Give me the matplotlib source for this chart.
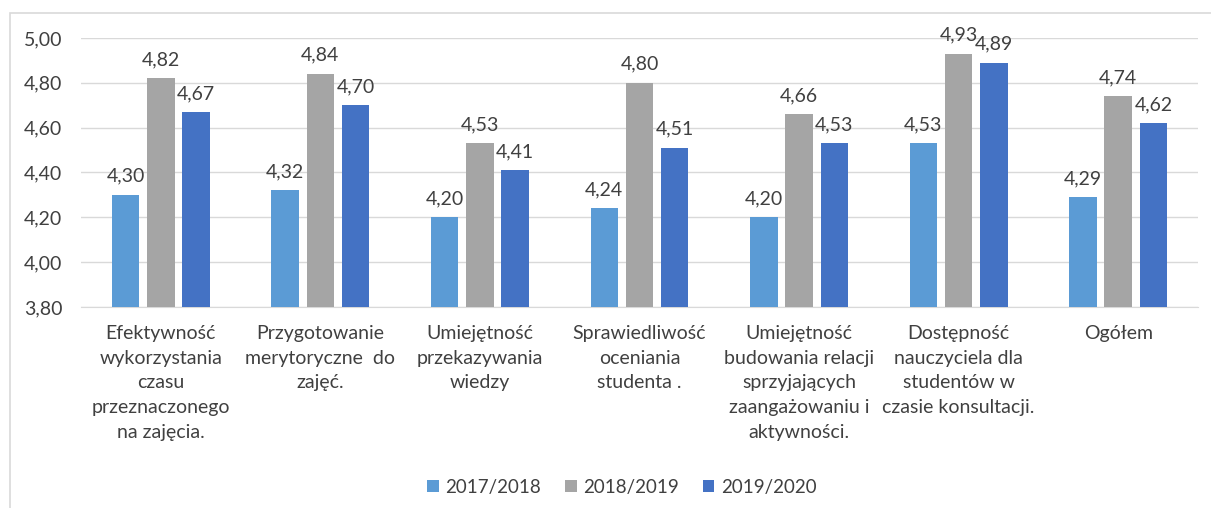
import matplotlib
matplotlib.use("Agg")
import matplotlib.pyplot as plt
import numpy as np
from matplotlib.patches import Rectangle

categories = [
    "Efektywność\nwykorzystania\nczasu\nprzeznaczonego\nna zajęcia.",
    "Przygotowanie\nmerytoryczne  do\nzajęć.",
    "Umiejętność\nprzekazywania\nwiedzy",
    "Sprawiedliwość\noceniania\nstudenta .",
    "Umiejętność\nbudowania relacji\nsprzyjających\nzaangażowaniu i\naktywności.",
    "Dostępność\nnauczyciela dla\nstudentów w\nczasie konsultacji.",
    "Ogółem",
]
series_names = ["2017/2018", "2018/2019", "2019/2020"]
v2017 = [4.30, 4.32, 4.20, 4.24, 4.20, 4.53, 4.29]
v2018 = [4.82, 4.84, 4.53, 4.80, 4.66, 4.93, 4.74]
v2019 = [4.67, 4.70, 4.41, 4.51, 4.53, 4.89, 4.62]
yticks = [3.80, 4.00, 4.20, 4.40, 4.60, 4.80, 5.00]

colors = ["#5B9BD5", "#A5A5A5", "#4472C4"]
font = ["Lato", "DejaVu Sans"]
txtc = "#404040"
fs = 14

fig = plt.figure(figsize=(12.11, 5.08), dpi=100)
ax = fig.add_axes([81/1211, 1-307/508, (1198-81)/1211, (307-38)/508])

# outer chart border
fig.patches.append(Rectangle((10/1211, -0.1), 1.2, 1-13/508+0.1, transform=fig.transFigure,
                             fill=False, edgecolor="#D9D9D9", linewidth=1.2))

x = np.arange(len(categories))
w = 0.172
step = 0.221
for i, (vals, name, c) in enumerate(zip([v2017, v2018, v2019], series_names, colors)):
    pos = x + (i - 1) * step
    ax.bar(pos, np.array(vals) - 3.8, w, bottom=3.8, color=c, label=name, zorder=3)
    for p, v in zip(pos, vals):
        ax.text(p, v + 0.045, f"{v:.2f}".replace(".", ","), ha="center", va="bottom",
                fontsize=fs, color=txtc, family=font)

ax.set_ylim(3.8, 5.0)
ax.set_xlim(-0.5, len(categories) - 0.5)
ax.set_yticks(yticks)
ax.set_yticklabels([f"{t:.2f}".replace(".", ",") for t in yticks], fontsize=fs,
                   color=txtc, family=font)
ax.yaxis.grid(True, color="#D9D9D9", linewidth=1, zorder=0)
ax.tick_params(axis="y", length=0, pad=13.5)
ax.tick_params(axis="x", length=0, pad=13)
ax.set_xticks(x)
ax.set_xticklabels(categories, fontsize=fs, color=txtc, family=font, linespacing=1.55)
for s in ["top", "right", "left"]:
    ax.spines[s].set_visible(False)
ax.spines["bottom"].set_color("#D9D9D9")

leg = fig.legend(loc="center", bbox_to_anchor=(622/1211, 1-487/508), ncol=3, frameon=False,
                 prop={"family": font, "size": 13.5}, handlelength=0.6, handleheight=0.6,
                 handletextpad=0.35, columnspacing=1.3)
for t in leg.get_texts():
    t.set_color(txtc)

fig.savefig("out.png", dpi=100)
